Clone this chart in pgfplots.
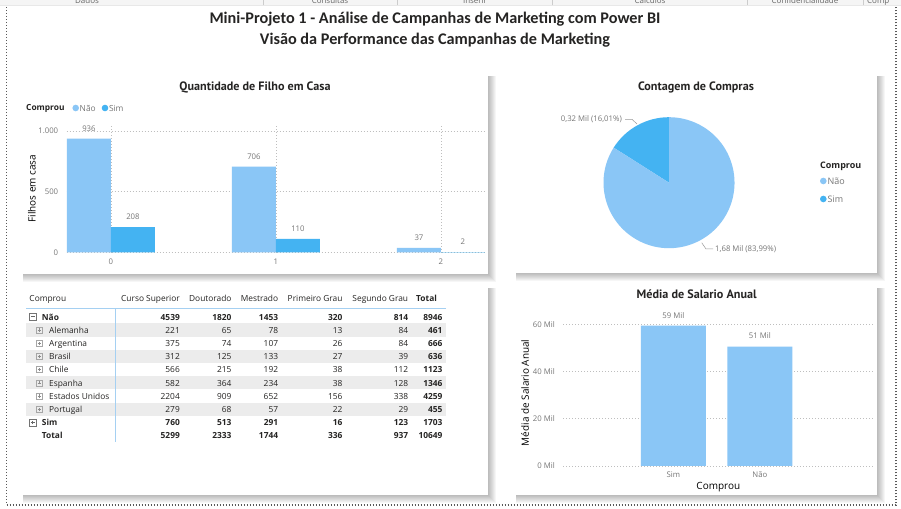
\documentclass[border=0pt]{standalone}
\usepackage{fontspec}
\usepackage{pgfplots}
\pgfplotsset{compat=1.18}
\setmainfont{Open Sans}
\newfontfamily\titlefont{Carlito}
\newfontfamily\cardfont{PT Sans}
\definecolor{nao}{RGB}{138,198,246}
\definecolor{sim}{RGB}{68,179,242}
\definecolor{txt}{RGB}{37,36,35}
\definecolor{tick}{RGB}{118,118,118}
\definecolor{gridc}{RGB}{190,190,190}
\definecolor{band}{RGB}{236,236,236}
\definecolor{tline}{RGB}{165,208,242}
\newcommand\tfont{\fontsize{8.4}{10}\selectfont}
\newcommand\lfont{\fontsize{7.8}{9}\selectfont}
\newcommand\ctitle{\cardfont\bfseries\fontsize{12.2}{14}\selectfont}
% pie values
\def\vNao{1679}
\def\vSim{320}
\pgfmathsetmacro\angS{360*(\vSim/(\vSim+\vNao))}
\newcommand\card[4]{%
  \foreach \k in {1,...,8}{\fill[black,opacity=0.035] (#1+1,#2-\k) rectangle (#3+\k,#4-1);}
  \fill[white] (#1,#2) rectangle (#3,#4);}
\newcommand\trow[8]{%
  \node[tv,#1] at (180,#2) {#3};
  \node[tv,#1] at (231.7,#2) {#4};
  \node[tv,#1] at (278.3,#2) {#5};
  \node[tv,#1] at (342.7,#2) {#6};
  \node[tv,#1] at (408.3,#2) {#7};
  \node[tv,font=\tfont\bfseries] at (442.7,#2) {#8};}
\newcommand\plusicon[2]{% x, yc
  \draw[black!35,line width=0.5bp] (#1-3,#2-3) rectangle (#1+3,#2+3);
  \draw[black!45,line width=0.5bp] (#1-1.6,#2) -- (#1+1.6,#2) (#1,#2-1.6) -- (#1,#2+1.6);}
\pgfplotsset{
  pbi/.style={
    scale only axis,
    /pgf/number format/assume math mode=true,
    axis line style={draw=none},
    tick style={draw=none},
    major tick length=0pt,
    ticklabel style={font=\lfont, text=tick},
    grid style={gridc, line width=0.7bp, dash pattern=on 0.7bp off 2.3bp},
    label style={font=\fontsize{9}{10}\selectfont, text=txt},
    every node near coord/.append style={font=\lfont, text=tick, yshift=4bp},
  }
}
\begin{document}
\begin{tikzpicture}[x=1bp,y=1bp]
\path[use as bounding box] (0,0) rectangle (901,509);
\fill[white] (0,0) rectangle (901,509);
% top toolbar strip
\fill[black!4] (0,503) rectangle (901,509);
\fill[black!9] (0,502.5) rectangle (901,503.5);
\begin{scope}
  \clip (0,503.5) rectangle (901,509);
  \begin{scope}[every node/.style={font=\fontsize{8}{9}\selectfont, text=black!60, inner sep=0}]
  \node[anchor=base] at (87,505.8) {Dados};
  \node[anchor=base] at (330,505.8) {Consultas};
  \node[anchor=base] at (475,505.8) {Inserir};
  \node[anchor=base] at (650,505.8) {Cálculos};
  \node[anchor=base] at (805,505.8) {Confidencialidade};
  \node[anchor=base west] at (867,505.8) {Comp};
  \end{scope}
\end{scope}
\foreach \sx in {263,397,552.7,747.7,863.3}{\draw[black!20,line width=0.6bp] (\sx,503.5) -- (\sx,509);}
% dotted frame
\draw[black!65, line width=1.4bp, dash pattern=on 1.4bp off 1.6bp] (6.7,502) -- (6.7,4) -- (896,4) -- (896,502);
% main titles
\node[font=\titlefont\bfseries\fontsize{16.3}{18}\selectfont, text=txt] at (435,490) {Mini-Projeto 1 - Análise de Campanhas de Marketing com Power BI};
\node[font=\titlefont\bfseries\fontsize{16.3}{18}\selectfont, text=txt] at (435,469) {Visão da Performance das Campanhas de Marketing};
% cards
\card{22}{235}{488.3}{434}
\card{515}{235.7}{876.7}{434}
\card{21.7}{14}{488.3}{222.3}
\card{515}{14}{876.7}{222.3}

% ---------- Chart 1: Quantidade de Filho em Casa ----------
\node[font=\ctitle, text=txt] at (255,422) {Quantidade de Filho em Casa};
\node[anchor=west, inner sep=0, font=\fontsize{8.4}{9}\selectfont\bfseries, text=txt] at (26,401) {Comprou};
\fill[nao] (75.7,401) circle (3.3);
\node[anchor=west, inner sep=0, font=\fontsize{8.4}{9}\selectfont, text=tick] at (79.5,401) {Não};
\fill[sim] (105,401) circle (3.3);
\node[anchor=west, inner sep=0, font=\fontsize{8.4}{9}\selectfont, text=tick] at (108.8,401) {Sim};
\begin{axis}[pbi,
  at={(66.7bp,256.7bp)}, anchor=south west,
  width=418.3bp, height=127.4bp,
  xmin=-0.268, xmax=2.267, ymin=0, ymax=1050,
  ytick={0,500,1000}, yticklabels={0,500,{1.000}},
  xtick={0,1,2},
  ymajorgrids, xmajorgrids,
  xticklabel style={yshift=-3.5bp},
  yticklabel style={xshift=-5bp},
  ylabel={Filhos em casa},
  every axis y label/.style={at={(axis description cs:-0.083,0.5)}, rotate=90, anchor=center},
  ybar, bar width=44bp,
  nodes near coords,
]
\addplot[fill=nao, draw=none, bar shift=-22bp] coordinates {(0,936) (1,706) (2,37)};
\addplot[fill=sim, draw=none, bar shift=22bp] coordinates {(0,208) (1,110) (2,2)};
\end{axis}

% ---------- Chart 2: Contagem de Compras (pie) ----------
\node[font=\ctitle, text=txt] at (696,422) {Contagem de Compras};
\begin{axis}[hide axis, scale only axis,
  at={(669bp,326.3bp)}, anchor=center,
  width=131bp, height=131bp,
  xmin=-1, xmax=1, ymin=-1, ymax=1]
\fill[sim] (axis cs:0,0) -- (axis cs:0,1) arc[start angle=90, end angle={90+\angS}, radius=65.5bp] -- cycle;
\fill[nao] (axis cs:0,0) -- ++({90+\angS}:65.5bp) arc[start angle={90+\angS}, end angle=450, radius=65.5bp] -- cycle;
\end{axis}
\draw[black!40, line width=0.5bp] (625,389.7) -- (632,389.7) -- (637,385);
\node[anchor=east, inner sep=0, font=\lfont, text=tick] at (622,389.7) {0,32 Mil (16,01\%)};
\draw[black!40, line width=0.5bp] (701.7,266.3) -- (706,260) -- (713,260);
\node[anchor=west, inner sep=0, font=\lfont, text=tick] at (715,260) {1,68 Mil (83,99\%)};
\node[anchor=west, inner sep=0, font=\fontsize{9}{10}\selectfont\bfseries, text=txt] at (820,342.3) {Comprou};
\fill[nao] (823.3,328) circle (3.3);
\node[anchor=west, inner sep=0, font=\fontsize{9}{10}\selectfont, text=tick] at (827.5,328) {Não};
\fill[sim] (823.3,310) circle (3.3);
\node[anchor=west, inner sep=0, font=\fontsize{9}{10}\selectfont, text=tick] at (827.5,310) {Sim};

% ---------- Table ----------
\fill[band] (26,172.4) rectangle (446,185.6);
\fill[band] (26,146) rectangle (446,159.2);
\fill[band] (26,119.6) rectangle (446,132.8);
\fill[band] (26,93.2) rectangle (446,106.4);
\draw[tline, line width=0.8bp] (26,200.7) -- (446,200.7);
\draw[tline, line width=0.8bp] (115.7,200.7) -- (115.7,67.3);
\begin{scope}[tv/.style={anchor=base east, inner sep=0, font=\tfont, text=txt},
              tn/.style={anchor=base west, inner sep=0, font=\tfont, text=txt}]
\node[tn] at (29.3,207.4) {Comprou};
\node[tv] at (180,207.4) {Curso Superior};
\node[tv] at (231.7,207.4) {Doutorado};
\node[tv] at (278.3,207.4) {Mestrado};
\node[tv] at (342.7,207.4) {Primeiro Grau};
\node[tv] at (408.3,207.4) {Segundo Grau};
\node[tn,font=\tfont\bfseries] at (416,207.4) {Total};
% Não
\draw[black!55,line width=0.5bp] (29.2,188.7) rectangle (36.2,195.7);
\draw[black!60,line width=0.6bp] (30.9,192.2) -- (34.5,192.2);
\node[tn,font=\tfont\bfseries] at (41.7,188.9) {Não};
\trow{font=\tfont\bfseries}{188.9}{4539}{1820}{1453}{320}{814}{8946}
\plusicon{39.3}{179}
\node[tn] at (49,175.7) {Alemanha};
\trow{}{175.7}{221}{65}{78}{13}{84}{461}
\plusicon{39.3}{165.8}
\node[tn] at (49,162.5) {Argentina};
\trow{}{162.5}{375}{74}{107}{26}{84}{666}
\plusicon{39.3}{152.6}
\node[tn] at (49,149.3) {Brasil};
\trow{}{149.3}{312}{125}{133}{27}{39}{636}
\plusicon{39.3}{139.4}
\node[tn] at (49,136.1) {Chile};
\trow{}{136.1}{566}{215}{192}{38}{112}{1123}
\plusicon{39.3}{126.2}
\node[tn] at (49,122.9) {Espanha};
\trow{}{122.9}{582}{364}{234}{38}{128}{1346}
\plusicon{39.3}{113}
\node[tn] at (49,109.7) {Estados Unidos};
\trow{}{109.7}{2204}{909}{652}{156}{338}{4259}
\plusicon{39.3}{99.8}
\node[tn] at (49,96.5) {Portugal};
\trow{}{96.5}{279}{68}{57}{22}{29}{455}
% Sim
\draw[black!55,line width=0.5bp] (29.2,83.1) rectangle (36.2,90.1);
\draw[black!60,line width=0.6bp] (30.9,86.6) -- (34.5,86.6) (32.7,84.8) -- (32.7,88.4);
\node[tn,font=\tfont\bfseries] at (41.7,83.3) {Sim};
\trow{font=\tfont\bfseries}{83.3}{760}{513}{291}{16}{123}{1703}
\node[tn,font=\tfont\bfseries] at (41.7,70.1) {Total};
\trow{font=\tfont\bfseries}{70.1}{5299}{2333}{1744}{336}{937}{10649}
\end{scope}

% ---------- Chart 4: Média de Salario Anual ----------
\node[font=\ctitle, text=txt] at (696.7,215) {Média de Salario Anual};
\begin{axis}[pbi,
  at={(563.3bp,43bp)}, anchor=south west,
  width=310bp, height=146.4bp,
  xmin=-1.272, xmax=2.312, ymin=0, ymax=62,
  ytick={0,20,40,60}, yticklabels={0 Mil,20 Mil,40 Mil,60 Mil},
  xtick={0,1}, xticklabels={Sim,Não},
  ymajorgrids,
  xticklabel style={yshift=-2.5bp},
  yticklabel style={xshift=-5bp},
  ylabel={Média de Salario Anual},
  xlabel={Comprou},
  every axis y label/.style={at={(axis description cs:-0.1235,0.5)}, rotate=90, anchor=center},
  every axis x label/.style={at={(axis description cs:0.5,-0.141)}, anchor=center},
  ybar, bar width=65bp,
  nodes near coords={\pgfmathprintnumber[fixed,precision=0]{\pgfplotspointmeta}~Mil},
]
\addplot[fill=nao, draw=none] coordinates {(0,59.4) (1,50.6)};
\end{axis}
\end{tikzpicture}
\end{document}
